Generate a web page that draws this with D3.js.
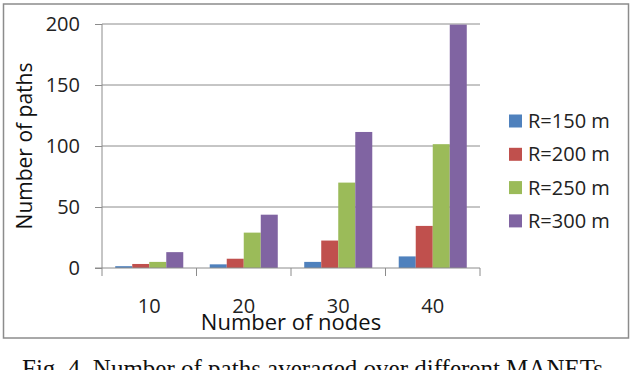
<!DOCTYPE html>
<html>
<head>
<meta charset="utf-8">
<script src="https://cdn.jsdelivr.net/npm/d3@7"></script>
<style>
  body { margin: 0; background: #fff; }
  svg { display: block; }
</style>
</head>
<body>
<script>
var nodes = ["10", "20", "30", "40"];
var series = ["R=150 m", "R=200 m", "R=250 m", "R=300 m"];
var r150 = [1.5, 3, 5, 9.5];
var r200 = [3.3, 7.6, 22.5, 34.5];
var r250 = [5, 29, 70, 101.5];
var r300 = [13, 43.7, 111.5, 199.5];
var yTicks = [0, 50, 100, 150, 200];
var colors = ["#4f81bd", "#c0504d", "#9bbb59", "#8064a2"];

var seriesValues = [r150, r200, r250, r300];
var data = nodes.map(function(n, i) {
  return {
    node: n,
    values: series.map(function(s, j) { return {key: s, value: seriesValues[j][i]}; })
  };
});

var margin = {top: 24, left: 102};
var width = 378;
var height = 244;
var font = "'Open Sans', sans-serif";

var svg = d3.select("body")
  .append("svg")
  .attr("width", 630)
  .attr("height", 370);

// chart frame
svg.append("rect")
  .attr("x", 3.5)
  .attr("y", 4)
  .attr("width", 625)
  .attr("height", 334)
  .attr("fill", "#fff")
  .attr("stroke", "#8c8c8c")
  .attr("stroke-width", 1.5);

var g = svg.append("g")
  .attr("transform", "translate(" + margin.left + "," + margin.top + ")");

var x0 = d3.scaleBand()
  .domain(nodes)
  .range([0, width])
  .paddingInner(0.28)
  .paddingOuter(0.14);

var x1 = d3.scaleBand()
  .domain(series)
  .range([0, x0.bandwidth()]);

var yScale = d3.scaleLinear()
  .domain([0, 200])
  .range([height, 0]);

var colorScale = d3.scaleOrdinal()
  .domain(series)
  .range(colors);

// gridlines
g.selectAll(".grid")
  .data(yTicks.slice(1))
  .enter().append("line")
  .attr("class", "grid")
  .attr("x1", 0)
  .attr("x2", width)
  .attr("y1", function(d) { return yScale(d); })
  .attr("y2", function(d) { return yScale(d); })
  .attr("stroke", "#8c8c8c")
  .attr("stroke-width", 1);

var yAxis = d3.axisLeft(yScale).tickValues(yTicks).tickSize(7).tickPadding(15);
var yAxisG = g.append("g").call(yAxis);
yAxisG.select(".domain").attr("stroke", "#8c8c8c").attr("d", "M0," + height + "V0");
yAxisG.selectAll(".tick line").attr("stroke", "#8c8c8c");
yAxisG.selectAll(".tick text")
  .attr("fill", "#222")
  .style("font-family", font)
  .style("font-size", "20px");

// bars
var groups = g.selectAll(".group")
  .data(data)
  .enter().append("g")
  .attr("class", "group")
  .attr("transform", function(d) { return "translate(" + x0(d.node) + ",0)"; });

groups.selectAll("rect")
  .data(function(d) { return d.values; })
  .enter().append("rect")
  .attr("x", function(d) { return x1(d.key); })
  .attr("width", x1.bandwidth())
  .attr("y", function(d) { return yScale(d.value); })
  .attr("height", function(d) { return height - yScale(d.value); })
  .attr("fill", function(d) { return colorScale(d.key); });

// x axis: ticks between categories
var xAxisG = g.append("g").attr("transform", "translate(0," + height + ")");
xAxisG.append("line")
  .attr("x1", -7).attr("x2", width)
  .attr("stroke", "#8c8c8c");
var tickPos = nodes.map(function(n) { return x0(n) - x0.step() * x0.paddingInner() / 2; }).concat([width]);
tickPos[0] = 0;
xAxisG.selectAll(".xtick")
  .data(tickPos)
  .enter().append("line")
  .attr("class", "xtick")
  .attr("x1", function(d) { return d; })
  .attr("x2", function(d) { return d; })
  .attr("y1", 0).attr("y2", 8)
  .attr("stroke", "#8c8c8c");
xAxisG.selectAll(".xlabel")
  .data(nodes)
  .enter().append("text")
  .attr("class", "xlabel")
  .attr("x", function(d) { return x0(d) + x0.bandwidth() / 2; })
  .attr("y", 45)
  .attr("text-anchor", "middle")
  .attr("fill", "#222")
  .style("font-family", font)
  .style("font-size", "20px")
  .text(function(d) { return d; });

// axis titles
svg.append("text")
  .attr("x", 291)
  .attr("y", 330)
  .attr("text-anchor", "middle")
  .attr("fill", "#111")
  .style("font-family", font)
  .style("font-size", "22px")
  .text("Number of nodes");

svg.append("text")
  .attr("transform", "translate(32,146) rotate(-90)")
  .attr("text-anchor", "middle")
  .attr("fill", "#111")
  .style("font-family", font)
  .style("font-size", "21px")
  .text("Number of paths");

// legend
var legend = svg.selectAll(".legend")
  .data(series)
  .enter().append("g")
  .attr("class", "legend")
  .attr("transform", function(d, i) { return "translate(509," + (121 + i * 33.3) + ")"; });

legend.append("rect")
  .attr("x", 0).attr("y", -6.5)
  .attr("width", 13).attr("height", 13)
  .attr("fill", function(d) { return colorScale(d); });

legend.append("text")
  .attr("x", 19)
  .attr("y", 7)
  .attr("fill", "#222")
  .style("font-family", font)
  .style("font-size", "20px")
  .text(function(d) { return d; });

// caption
svg.append("text")
  .attr("x", 22)
  .attr("y", 377)
  .attr("fill", "#111")
  .style("font-family", "'Liberation Serif', 'Times New Roman', serif")
  .style("font-size", "25px")
  .text("Fig. 4. Number of paths averaged over different MANETs.");
</script>
</body>
</html>
